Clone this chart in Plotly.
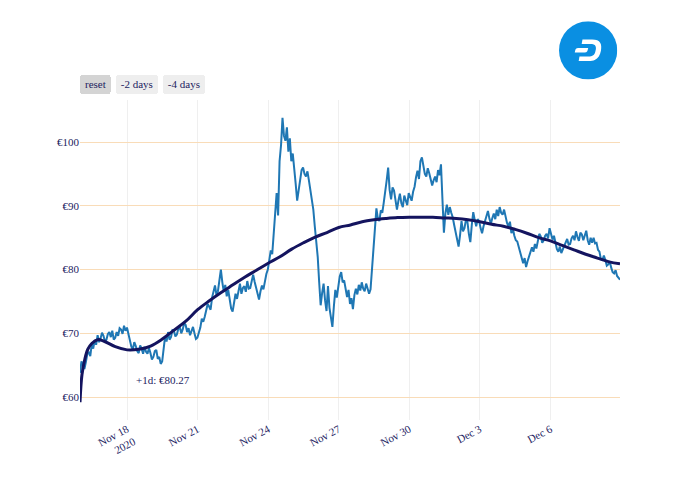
import base64
import pandas as pd
import plotly.graph_objects as go

# ---- data, one value every ~1.5 h ----
start = "2020-11-16 00:00"
end = "2020-12-08 23:00"
price_eur = [
    # Nov 16
    63.8, 65.6, 65.0, 64.4, 65.5, 66.8, 67.0, 66.4, 68.3, 67.6, 68.9, 68.2, 69.7, 68.6, 69.2, 70.1,
    # Nov 17
    69.6, 68.7, 69.0, 69.9, 70.2, 69.4, 70.4, 69.0, 69.3, 70.2, 69.6, 70.8, 70.6, 69.9, 71.2, 70.4,
    # Nov 18
    70.9, 69.8, 68.9, 67.9, 67.5, 68.6, 68.0, 67.2, 66.9, 68.1, 67.6, 66.8, 67.9, 67.1, 66.8, 67.7,
    # Nov 19
    66.9, 65.9, 66.3, 67.2, 67.4, 66.0, 66.3, 65.2, 65.6, 67.8, 69.5, 68.7, 70.2, 69.0, 69.4, 70.5,
    # Nov 20
    70.4, 69.5, 69.8, 70.7, 71.0, 70.0, 70.6, 71.6, 71.3, 70.2, 70.8, 69.7, 70.3, 71.0, 70.0, 69.1,
    # Nov 21
    69.3, 70.2, 70.9, 72.3, 71.8, 72.6, 73.4, 74.6, 74.2, 73.7, 75.6, 76.5, 77.5, 76.0, 76.6, 78.3,
    # Nov 22
    80.0, 78.0, 76.5, 77.6, 75.8, 76.8, 75.0, 73.9, 73.4, 75.0, 76.2, 75.4, 77.0, 77.8, 76.2, 77.1,
    # Nov 23
    77.4, 76.5, 78.2, 77.0, 77.1, 78.5, 79.2, 78.1, 77.2, 76.2, 75.3, 76.6, 77.5, 76.9, 78.4, 79.3,
    # Nov 24
    80.0, 81.2, 83.0, 82.4, 85.7, 89.0, 92.0, 88.5, 97.0, 99.5, 103.8, 101.0, 100.2, 102.3, 98.5, 100.6,
    # Nov 25
    97.0, 98.2, 95.2, 93.4, 90.8, 92.6, 94.4, 95.6, 96.0, 95.0, 94.6, 95.4, 94.0, 92.5, 91.0, 89.4,
    # Nov 26
    86.8, 84.5, 82.0, 78.0, 74.4, 76.3, 77.8, 75.2, 73.5, 77.4, 74.0, 72.5, 71.0, 74.2, 76.8, 75.6,
    # Nov 27
    77.8, 78.9, 79.6, 78.0, 78.3, 76.6, 75.7, 76.8, 74.6, 75.5, 73.8, 76.0, 77.0, 76.1, 77.6, 76.7,
    # Nov 28
    78.0, 77.0, 76.6, 77.8, 77.1, 76.2, 76.9, 80.0, 84.5, 87.5, 89.6, 88.0, 87.6, 89.3, 88.9, 90.5,
    # Nov 29
    92.8, 94.0, 96.0, 92.5, 91.0, 92.9, 92.4, 90.6, 89.4, 90.8, 91.9, 90.4, 89.8, 91.6, 91.0, 90.1,
    # Nov 30
    92.0, 91.2, 90.8, 92.2, 93.0, 94.5, 95.5, 94.2, 97.0, 97.6, 96.2, 95.0, 94.6, 95.9, 95.1, 94.2,
    # Dec 1
    93.2, 94.0, 94.6, 93.7, 95.6, 94.8, 96.5, 91.0, 85.8, 88.8, 90.2, 88.6, 89.8, 88.9, 88.2, 87.0,
    # Dec 2
    86.0, 85.0, 83.6, 85.4, 87.6, 86.0, 86.5, 87.8, 87.5, 85.6, 84.3, 87.0, 89.0, 87.8, 86.8, 87.9,
    # Dec 3
    87.6, 86.5, 85.7, 86.8, 87.7, 88.6, 89.2, 88.0, 87.2, 88.1, 88.8, 87.9, 89.4, 88.4, 89.8, 88.9,
    # Dec 4
    88.6, 89.4, 88.2, 87.3, 86.8, 87.5, 85.7, 86.4, 85.3, 84.6, 84.4, 83.6, 83.0, 82.0, 81.0, 81.8,
    # Dec 5
    80.4, 81.3, 82.0, 83.0, 83.5, 82.8, 84.0, 83.3, 84.5, 85.6, 85.2, 84.2, 84.6, 85.3, 85.6, 84.9,
    # Dec 6
    86.5, 85.5, 84.7, 85.3, 83.9, 83.2, 82.8, 83.6, 82.6, 83.2, 83.8, 84.5, 84.8, 83.9, 84.0, 84.9,
    # Dec 7
    85.3, 84.6, 86.0, 85.1, 84.5, 85.8, 85.5, 84.6, 85.3, 86.1, 84.6, 83.9, 85.0, 84.2, 85.0, 84.1,
    # Dec 8
    84.2, 83.1, 82.8, 81.6, 81.5, 82.2, 81.5, 80.6, 80.8, 81.3, 80.3, 79.6, 79.4, 79.9, 79.0, 78.6,
    78.4,
]
trend_hours = [0, 2, 5, 8, 12, 18, 24, 36, 48, 60, 72, 84, 96, 108, 120, 132,
               144, 156, 168, 180, 192, 204, 216, 228, 240, 252, 264, 276, 288,
               300, 312, 324, 336, 348, 360, 372, 384, 396, 408, 420, 432, 444,
               456, 468, 480, 492, 504, 516, 528, 540, 551]
trend_eur = [59.2, 63.5, 66.0, 67.5, 68.4, 69.0, 68.8, 67.9, 67.4, 67.5, 68.0,
             69.1, 70.5, 71.9, 73.7, 75.1, 76.4, 77.6, 78.8, 79.9, 81.0, 82.0,
             83.2, 84.2, 85.1, 85.8, 86.6, 87.0, 87.5, 87.8, 88.0, 88.15, 88.2,
             88.2, 88.2, 88.1, 88.0, 87.8, 87.5, 87.1, 86.8, 86.3, 85.7, 85.0,
             84.5, 83.8, 83.1, 82.4, 81.8, 81.2, 80.9]
note_text = "+1d: €80.27"

price_time = pd.date_range(start, end, periods=len(price_eur))
trend_time = pd.Timestamp(start) + pd.to_timedelta(trend_hours, unit="h")

font_color = "#23235f"
serif = "Liberation Serif, Times New Roman, serif"

fig = go.Figure()
fig.add_trace(go.Scatter(x=price_time, y=price_eur, mode="lines",
                         line=dict(color="#1f77b4", width=2), name="price"))
fig.add_trace(go.Scatter(x=trend_time, y=trend_eur, mode="lines",
                         line=dict(color="#14145f", width=3, shape="spline"),
                         name="trend"))

logo_svg = (
    '<svg xmlns="http://www.w3.org/2000/svg" viewBox="0 0 100 100">'
    '<circle cx="50" cy="50" r="50" fill="#0a8fe2"/>'
    '<g transform="translate(27,27) scale(1.9)"><path fill="#ffffff" d="M3.21 9.967C.922 9.967.595 11.457.38 12.36.093 13.538 0 14.02 0 14.02h8.947c2.29 0 2.617-1.492 2.832-2.394.285-1.178.379-1.66.379-1.66zM15.72 2.26H6.982L6.26 6.307l7.884.01c3.885 0 5.03 1.41 4.997 3.748-.019 1.196-.537 3.225-.762 3.884-.598 1.753-1.827 3.749-6.435 3.744l-7.666-.004-.725 4.052h8.718c3.075 0 4.380-.36 5.767-.995 3.071-1.426 4.9-4.455 5.633-8.41C24.76 6.448 23.403 2.26 15.72 2.26z"/></g>'
    '</svg>'
)
logo_uri = "data:image/svg+xml;base64," + base64.b64encode(logo_svg.encode()).decode()

# The page body adds an 8px offset; margins compensate so the plot area
# sits at x 80-620, y 100-420 of the window.
fig.update_layout(
    width=700, height=500,
    margin=dict(l=72, r=88, t=92, b=88),
    paper_bgcolor="white", plot_bgcolor="white",
    showlegend=False,
    font=dict(family=serif, size=11, color=font_color),
    xaxis=dict(
        type="date",
        tick0="2020-11-18", dtick=3 * 86400000,
        tickangle=-28,
        showgrid=True, gridcolor="#efefef", gridwidth=1,
        zeroline=False, showline=False,
        rangeselector=dict(
            buttons=[
                dict(step="all", label="reset"),
                dict(count=2, step="day", stepmode="backward", label="-2 days"),
                dict(count=4, step="day", stepmode="backward", label="-4 days"),
            ],
            bgcolor="#eeeeee", activecolor="#d4d4d4",
            font=dict(family=serif, size=11, color=font_color),
        ),
    ),
    yaxis=dict(
        range=[56.4, 106.6],
        dtick=10, tickprefix="€",
        showgrid=True, gridcolor="#f9dcb8", gridwidth=1,
        zeroline=False, showline=False,
    ),
    annotations=[dict(
        text=note_text, xref="paper", yref="paper",
        x=0.154, y=0.125, xanchor="center", yanchor="middle", showarrow=False,
        font=dict(family=serif, size=11, color=font_color),
    )],
    images=[dict(
        source=logo_uri, xref="paper", yref="paper",
        x=0.941, y=1.155, sizex=0.108, sizey=0.182,
        xanchor="center", yanchor="middle", sizing="contain", layer="above",
    )],
)

fig.write_html("out.html")
